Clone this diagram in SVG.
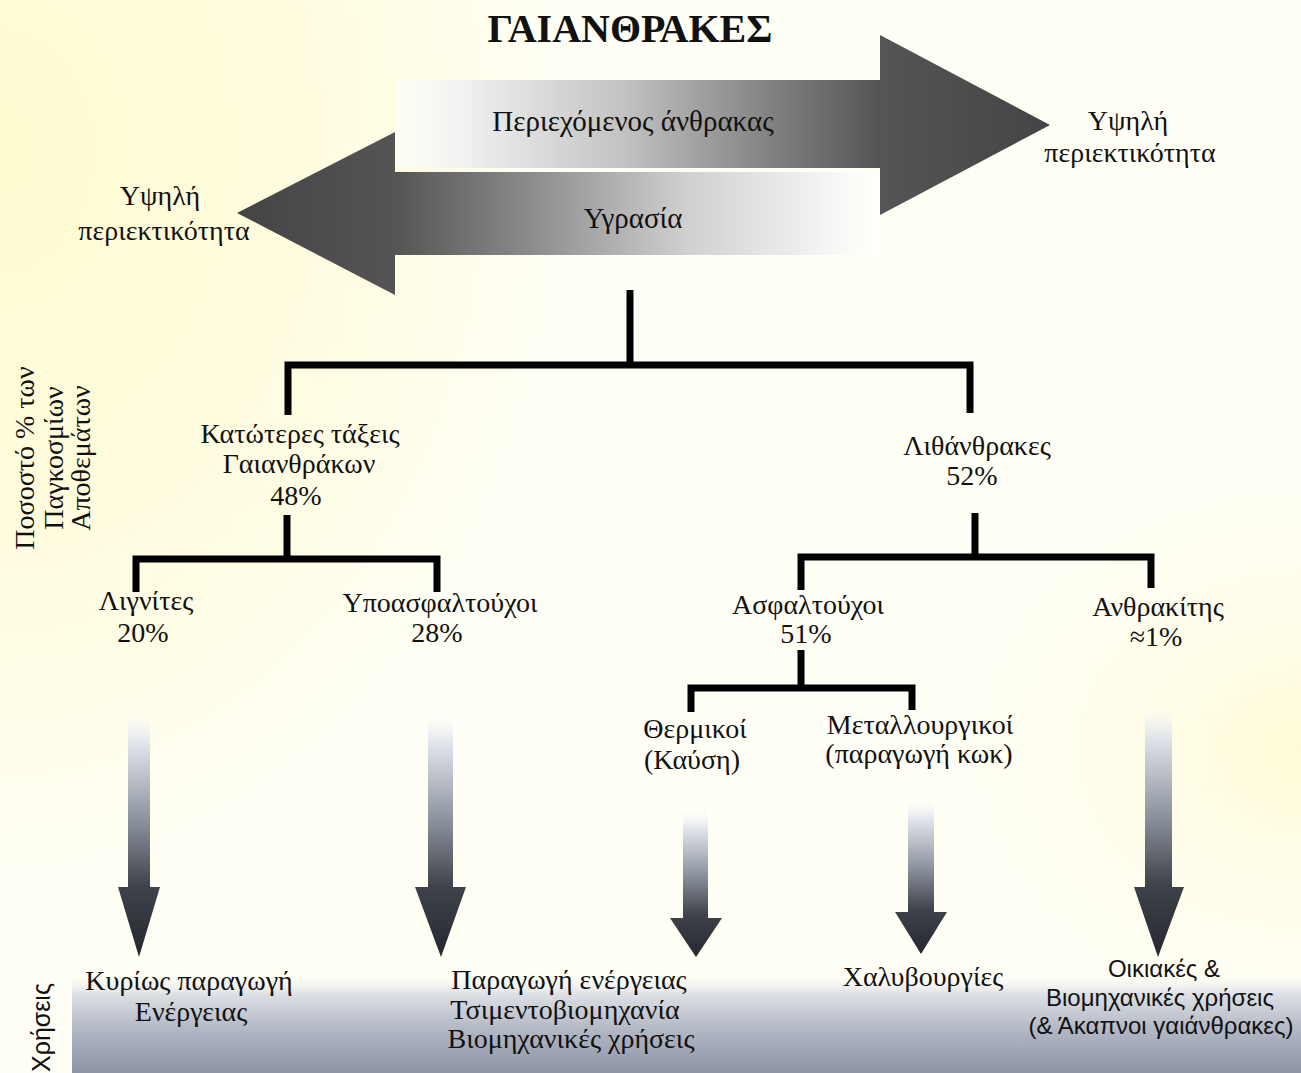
<svg xmlns="http://www.w3.org/2000/svg" width="1301" height="1073" viewBox="0 0 1301 1073">
<defs>
<radialGradient id="bgY" cx="0" cy="0" r="1" gradientUnits="userSpaceOnUse" gradientTransform="translate(0,150) scale(700,900)">
<stop offset="0" stop-color="#fffbd0"/>
<stop offset="0.6" stop-color="#fffde6"/>
<stop offset="1" stop-color="#ffffff" stop-opacity="0"/>
</radialGradient>
<radialGradient id="bgY2" cx="0" cy="0" r="1" gradientUnits="userSpaceOnUse" gradientTransform="translate(1301,750) scale(500,400)">
<stop offset="0" stop-color="#fffbd6"/>
<stop offset="1" stop-color="#ffffff" stop-opacity="0"/>
</radialGradient>
<linearGradient id="band" x1="0" y1="975" x2="0" y2="1073" gradientUnits="userSpaceOnUse">
<stop offset="0" stop-color="#f4f4f2" stop-opacity="0"/>
<stop offset="0.2" stop-color="#dcdfe4"/>
<stop offset="0.55" stop-color="#b2b8c4"/>
<stop offset="1" stop-color="#8c94a6"/>
</linearGradient>
<linearGradient id="gRight" x1="395" y1="0" x2="1050" y2="0" gradientUnits="userSpaceOnUse">
<stop offset="0" stop-color="#ffffff" stop-opacity="0.6"/>
<stop offset="0.12" stop-color="#eeeeee"/>
<stop offset="0.35" stop-color="#c2c2c2"/>
<stop offset="0.6" stop-color="#7a7a7a"/>
<stop offset="0.74" stop-color="#555555"/>
<stop offset="1" stop-color="#444444"/>
</linearGradient>
<linearGradient id="gLeft" x1="237" y1="0" x2="880" y2="0" gradientUnits="userSpaceOnUse">
<stop offset="0" stop-color="#444444"/>
<stop offset="0.25" stop-color="#555555"/>
<stop offset="0.45" stop-color="#8a8a8a"/>
<stop offset="0.7" stop-color="#d0d0d0"/>
<stop offset="0.9" stop-color="#f2f2f2"/>
<stop offset="1" stop-color="#ffffff" stop-opacity="0.6"/>
</linearGradient>
<linearGradient id="gDown" x1="0" y1="0" x2="0" y2="1">
<stop offset="0" stop-color="#ffffff" stop-opacity="0"/>
<stop offset="0.15" stop-color="#dfe3ea"/>
<stop offset="0.45" stop-color="#8d939e"/>
<stop offset="0.72" stop-color="#3e424a"/>
<stop offset="1" stop-color="#26282e"/>
</linearGradient>
<style>
.t{font-family:"Liberation Serif","Times New Roman",serif;font-size:28px;fill:#111;text-anchor:middle}
.s{font-family:"Liberation Sans",Arial,sans-serif;font-size:24px;fill:#111;text-anchor:middle}
.ln{stroke:#000;stroke-width:7;fill:none;stroke-linecap:butt}
.da{fill:url(#gDown)}
</style>
</defs>
<rect width="1301" height="1073" fill="#fffff6"/>
<rect width="1301" height="1073" fill="url(#bgY)"/>
<rect width="1301" height="1073" fill="url(#bgY2)"/>
<rect x="72" y="975" width="1229" height="98" fill="url(#band)"/>

<g id="title"><text x="630" y="42" class="t" style="font-size:40px;font-weight:bold">ΓΑΙΑΝΘΡΑΚΕΣ</text></g>

<g id="arrow-carbon">
<polygon points="395,80 880,80 880,35 1050,125 880,215 880,168 395,168" fill="url(#gRight)"/>
<text x="633" y="131" class="t" style="font-size:29px">Περιεχόμενος άνθρακας</text>
</g>
<g id="arrow-moisture">
<polygon points="237,213 395,132 395,172 880,172 880,255 395,255 395,295" fill="url(#gLeft)"/>
<text x="633" y="228" class="t" style="font-size:29px">Υγρασία</text>
</g>
<g id="label-right-high"><text x="1128" y="130" class="t">Υψηλή</text><text x="1130" y="162" class="t">περιεκτικότητα</text></g>
<g id="label-left-high"><text x="160" y="205" class="t">Υψηλή</text><text x="164" y="240" class="t">περιεκτικότητα</text></g>

<g id="axis-reserves"><text transform="translate(0,458) rotate(-90)" class="t"><tspan x="0" y="34">Ποσοστό % των</tspan><tspan x="0" y="63">Παγκοσμίων</tspan><tspan x="0" y="90">Αποθεμάτων</tspan></text></g>
<g id="axis-uses"><text transform="translate(50,1072) rotate(-90)" class="s" style="font-size:25px;text-anchor:start">Χρήσεις</text></g>

<g id="connectors">
<polyline class="ln" points="630,290 630,365"/>
<polyline class="ln" points="288,415 288,365 970,365 970,413"/>
<polyline class="ln" points="287,515 287,559"/>
<polyline class="ln" points="136,592 136,559 437,559 437,592"/>
<polyline class="ln" points="975,513 975,557"/>
<polyline class="ln" points="801,590 801,557 1151,557 1151,588"/>
<polyline class="ln" points="801,650 801,688"/>
<polyline class="ln" points="691,712 691,688 912,688 912,710"/>
<polygon class="da" points="128,707 150,707 150,887 160,887 139,957 118,887 128,887"/>
<polygon class="da" points="428,707 453,707 453,887 466,887 441,957 415,887 428,887"/>
<polygon class="da" points="683,807 708,807 708,918 722,918 696,957 670,918 683,918"/>
<polygon class="da" points="908,797 934,797 934,912 947,912 921,954 895,912 908,912"/>
<polygon class="da" points="1145,700 1172,700 1172,887 1184,887 1158,957 1134,887 1145,887"/>
</g>

<g id="node-lower"><text x="300" y="443" class="t">Κατώτερες τάξεις</text><text x="299" y="473" class="t">Γαιανθράκων</text><text x="296" y="505" class="t">48%</text></g>
<g id="node-hard"><text x="977" y="455" class="t">Λιθάνθρακες</text><text x="972" y="485" class="t">52%</text></g>
<g id="node-lignite"><text x="146" y="610" class="t">Λιγνίτες</text><text x="143" y="642" class="t">20%</text></g>
<g id="node-subbit"><text x="440" y="612" class="t">Υποασφαλτούχοι</text><text x="437" y="642" class="t">28%</text></g>
<g id="node-bit"><text x="808" y="614" class="t">Ασφαλτούχοι</text><text x="806" y="643" class="t">51%</text></g>
<g id="node-anth"><text x="1158" y="616" class="t">Ανθρακίτης</text><text x="1156" y="646" class="t">≈1%</text></g>
<g id="node-thermal"><text x="695" y="738" class="t">Θερμικοί</text><text x="692" y="769" class="t">(Καύση)</text></g>
<g id="node-metal"><text x="920" y="734" class="t">Μεταλλουργικοί</text><text x="919" y="763" class="t">(παραγωγή κωκ)</text></g>

<g id="use-lignite"><text x="189" y="990" class="t">Κυρίως παραγωγή</text><text x="191" y="1021" class="t">Ενέργειας</text></g>
<g id="use-subbit"><text x="569" y="989" class="t">Παραγωγή ενέργειας</text><text x="565" y="1019" class="t">Τσιμεντοβιομηχανία</text><text x="571" y="1048" class="t">Βιομηχανικές χρήσεις</text></g>
<g id="use-steel"><text x="923" y="986" class="t">Χαλυβουργίες</text></g>
<g id="use-domestic"><text x="1164" y="977" class="s">Οικιακές &amp;</text><text x="1160" y="1006" class="s">Βιομηχανικές χρήσεις</text><text x="1161" y="1034" class="s">(&amp; Άκαπνοι γαιάνθρακες)</text></g>
</svg>
